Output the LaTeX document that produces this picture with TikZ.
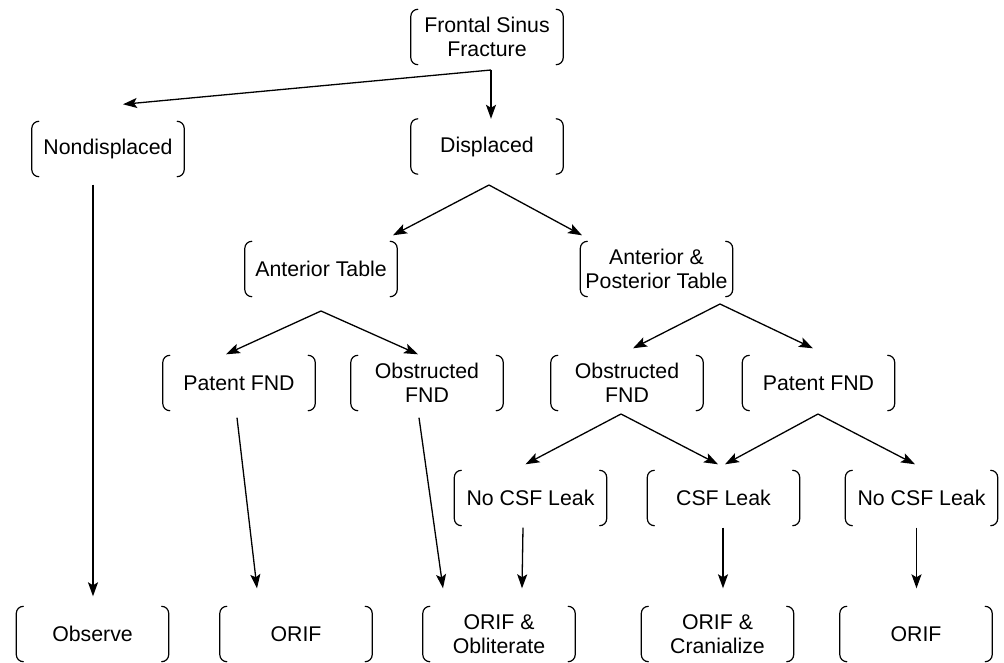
\documentclass[tikz,border=0pt]{standalone}
\usepackage{fontspec}
\setmainfont{Liberation Sans}
\usetikzlibrary{arrows.meta,calc}
\begin{document}
\begin{tikzpicture}[x=1pt,y=1pt,
  box/.style={rectangle, minimum width=152pt, minimum height=55pt, inner sep=0pt,
    align=center, font=\fontsize{21.3}{24}\selectfont},
  link/.style={line width=1.3pt, -{Stealth[length=14pt,width=10pt,inset=3pt]}},
  bracket/.style={line width=1.2pt, line cap=round}
]
\useasboundingbox (0,0) rectangle (1004,-663);

% decision nodes
\node[box] (fsf)   at (487,-37)    {Frontal Sinus\\Fracture};
\node[box] (nd)    at (108,-149)   {Nondisplaced};
\node[box] (disp)  at (487,-146.5) {Displaced};
\node[box] (at)    at (321,-269)   {Anterior Table};
\node[box] (apt)   at (656.5,-269) {Anterior \&\\Posterior Table};
\node[box] (pfl)   at (239,-383)   {Patent FND};
\node[box] (ofl)   at (427,-383)   {Obstructed\\FND};
\node[box] (ofr)   at (627,-383)   {Obstructed\\FND};
\node[box] (pfr)   at (818.5,-383) {Patent FND};
\node[box] (ncl)   at (530.5,-498) {No CSF Leak};
\node[box] (csf)   at (723.5,-498) {CSF Leak};
\node[box] (ncr)   at (921.5,-498) {No CSF Leak};
\node[box] (obs)   at (92.5,-634)  {Observe};
\node[box] (orifa) at (296,-634)   {ORIF};
\node[box] (oo)    at (499,-634)   {ORIF \&\\Obliterate};
\node[box] (oc)    at (717.5,-634) {ORIF \&\\Cranialize};
\node[box] (orifb) at (916,-634)   {ORIF};

% round brackets on both sides of every node
\foreach \n in {fsf,nd,disp,at,apt,pfl,ofl,ofr,pfr,ncl,csf,ncr,obs,orifa,oo,oc,orifb}{
  \draw[bracket] ($(\n.north west)+(7,0)$) arc[start angle=90,end angle=180,radius=7pt]
    -- ($(\n.south west)+(0,7)$) arc[start angle=180,end angle=270,radius=7pt];
  \draw[bracket] ($(\n.north east)+(-7,0)$) arc[start angle=90,end angle=0,radius=7pt]
    -- ($(\n.south east)+(0,7)$) arc[start angle=0,end angle=-90,radius=7pt];
}

% branching points
\coordinate (j1) at (491,-70);
\coordinate (j2) at (489,-185);
\coordinate (j3) at (321,-311);
\coordinate (j4) at (720,-304);
\coordinate (j5) at (621,-414);
\coordinate (j6) at (818,-414);

\draw[link] (j1) -- ($(nd.north)+(15,17)$);
\draw[link] (j1) -- ($(disp.north)+(4,0)$);
\draw[link] (j2) -- ($(at.north)+(72,6)$);
\draw[link] (j2) -- ($(apt.north)+(-74.5,6)$);
\draw[link] (j3) -- ($(pfl.north)+(-13,1)$);
\draw[link] (j3) -- ($(ofl.north)+(-9,1)$);
\draw[link] (j4) -- ($(ofr.north)+(6,7)$);
\draw[link] (j4) -- ($(pfr.north)+(-5.5,7)$);
\draw[link] (j5) -- ($(ncl.north)+(-5,6)$);
\draw[link] (j5) -- ($(csf.north)+(-5.5,6)$);
\draw[link] (j6) -- ($(csf.north)+(1.5,6)$);
\draw[link] (j6) -- ($(ncr.north)+(-6.5,6)$);

% outcomes
\draw[link] ($(nd.south)+(-15,-8)$)   -- ($(obs.north)+(0.5,10)$);
\draw[link] ($(pfl.south)+(-2,-7)$)   -- ($(orifa.north)+(-39,18)$);
\draw[link] ($(ofl.south)+(-8,-7)$)   -- ($(oo.north)+(-56,18)$);
\draw[link] ($(ncl.south)+(-7.5,-2)$) -- ($(oo.north)+(23,18)$);
\draw[link] ($(csf.south)+(-0.5,-2)$) -- ($(oc.north)+(5.5,18)$);
\draw[link] ($(ncr.south)+(-5,-2)$)   -- ($(orifb.north)+(0.5,18)$);
\end{tikzpicture}
\end{document}
